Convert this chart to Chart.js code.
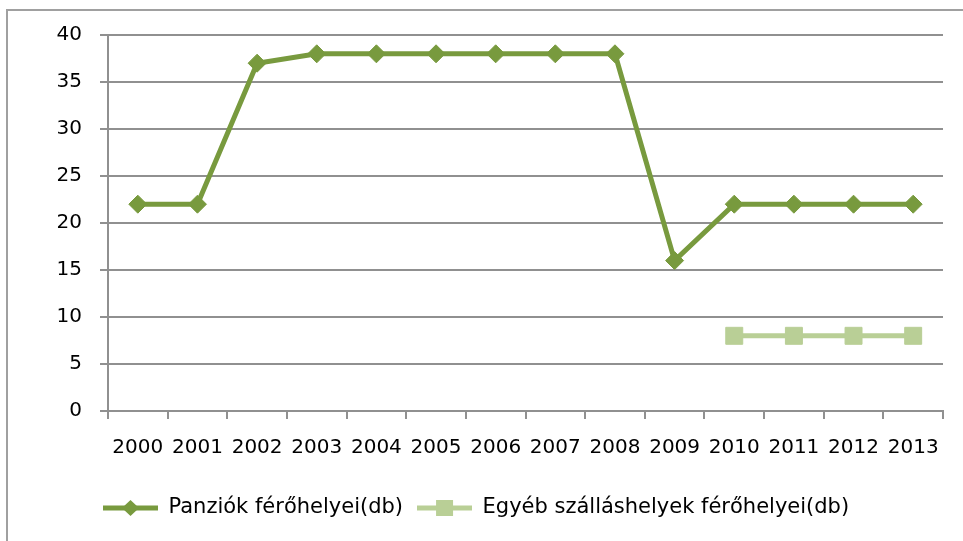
<!DOCTYPE html>
<html>
<head>
<meta charset="utf-8">
<script src="https://cdn.jsdelivr.net/npm/chart.js@4"></script>
<style>
  html, body { margin: 0; padding: 0; background: #fff; }
  body { width: 963px; height: 541px; position: relative; overflow: hidden; }
  #frame { position: absolute; left: 6px; top: 9px; width: 1000px; height: 600px; border: 2px solid #a0a0a0; }
  #chart { position: absolute; left: 0; top: 0; }
</style>
</head>
<body>
<div id="frame"></div>
<canvas id="chart" width="963" height="541"></canvas>
<script>
const years = ['2000', '2001', '2002', '2003', '2004', '2005', '2006', '2007', '2008', '2009', '2010', '2011', '2012', '2013'];
const panziok = [22, 22, 37, 38, 38, 38, 38, 38, 38, 16, 22, 22, 22, 22];
const egyeb = [null, null, null, null, null, null, null, null, null, null, 8, 8, 8, 8];
const seriesNames = ['Panziók férőhelyei(db)', 'Egyéb szálláshelyek férőhelyei(db)'];

const darkGreen = '#789a3e';
const lightGreen = '#b9cf96';
const gridGray = '#909090';

// small line + marker pictures for the legend (Excel style)
function legendIcon(color, shape) {
    const c = document.createElement('canvas');
    c.width = 55;
    c.height = 20;
    const g = c.getContext('2d');
    g.strokeStyle = color;
    g.fillStyle = color;
    g.lineWidth = 5;
    g.beginPath();
    g.moveTo(0, 10);
    g.lineTo(55, 10);
    g.stroke();
    g.beginPath();
    if (shape === 'diamond') {
        g.moveTo(27.5, 2);
        g.lineTo(36, 10);
        g.lineTo(27.5, 18);
        g.lineTo(19, 10);
    } else {
        g.rect(19, 2, 17, 16);
    }
    g.closePath();
    g.fill();
    return c;
}
const icons = [legendIcon(darkGreen, 'diamond'), legendIcon(lightGreen, 'square')];

// push the bottom legend to the right so it starts under the y axis, as in Excel
const legendShift = {
    id: 'legendShift',
    afterLayout(chart) {
        chart.legend.left += 49;
        chart.legend.right += 49;
    }
};

const ctx = document.getElementById('chart').getContext('2d');
new Chart(ctx, {
    type: 'line',
    data: {
        labels: years,
        datasets: [{
            label: seriesNames[0],
            data: panziok,
            borderColor: darkGreen,
            backgroundColor: darkGreen,
            borderWidth: 5,
            pointStyle: 'rectRot',
            pointRadius: 9,
            pointBorderWidth: 1,
            pointHoverRadius: 9,
            tension: 0
        }, {
            label: seriesNames[1],
            data: egyeb,
            borderColor: lightGreen,
            backgroundColor: lightGreen,
            borderWidth: 5,
            pointStyle: 'rect',
            pointRadius: 12,
            pointBorderWidth: 1,
            pointHoverRadius: 12,
            spanGaps: false,
            tension: 0
        }]
    },
    options: {
        responsive: false,
        animation: false,
        devicePixelRatio: 1,
        layout: {
            padding: { left: 40, right: 20, top: 35, bottom: 12.5 }
        },
        scales: {
            x: {
                offset: true,
                grid: {
                    offset: true,
                    drawOnChartArea: false,
                    drawTicks: true,
                    tickLength: 8,
                    color: gridGray,
                    lineWidth: 2
                },
                border: { color: gridGray, width: 2 },
                ticks: {
                    color: '#000',
                    padding: 17,
                    maxRotation: 0,
                    autoSkip: false,
                    font: { family: 'DejaVu Sans', size: 20 }
                },
                afterFit: scale => { scale.height = 72.5; }
            },
            y: {
                min: 0,
                max: 40,
                grid: {
                    color: gridGray,
                    lineWidth: 2,
                    tickLength: 8
                },
                border: { color: gridGray, width: 2 },
                ticks: {
                    stepSize: 5,
                    color: '#000',
                    padding: 18,
                    font: { family: 'DejaVu Sans', size: 20 }
                },
                afterFit: scale => { scale.width = 68; }
            }
        },
        plugins: {
            tooltip: { enabled: false },
            legend: {
                position: 'bottom',
                align: 'start',
                labels: {
                    usePointStyle: true,
                    pointStyleWidth: 55,
                    padding: 14,
                    color: '#000',
                    font: { family: 'DejaVu Sans', size: 21 },
                    generateLabels: chart => {
                        const items = Chart.defaults.plugins.legend.labels.generateLabels(chart);
                        items.forEach((item, i) => { item.pointStyle = icons[i]; });
                        return items;
                    }
                }
            }
        }
    },
    plugins: [legendShift]
});
</script>
</body>
</html>
